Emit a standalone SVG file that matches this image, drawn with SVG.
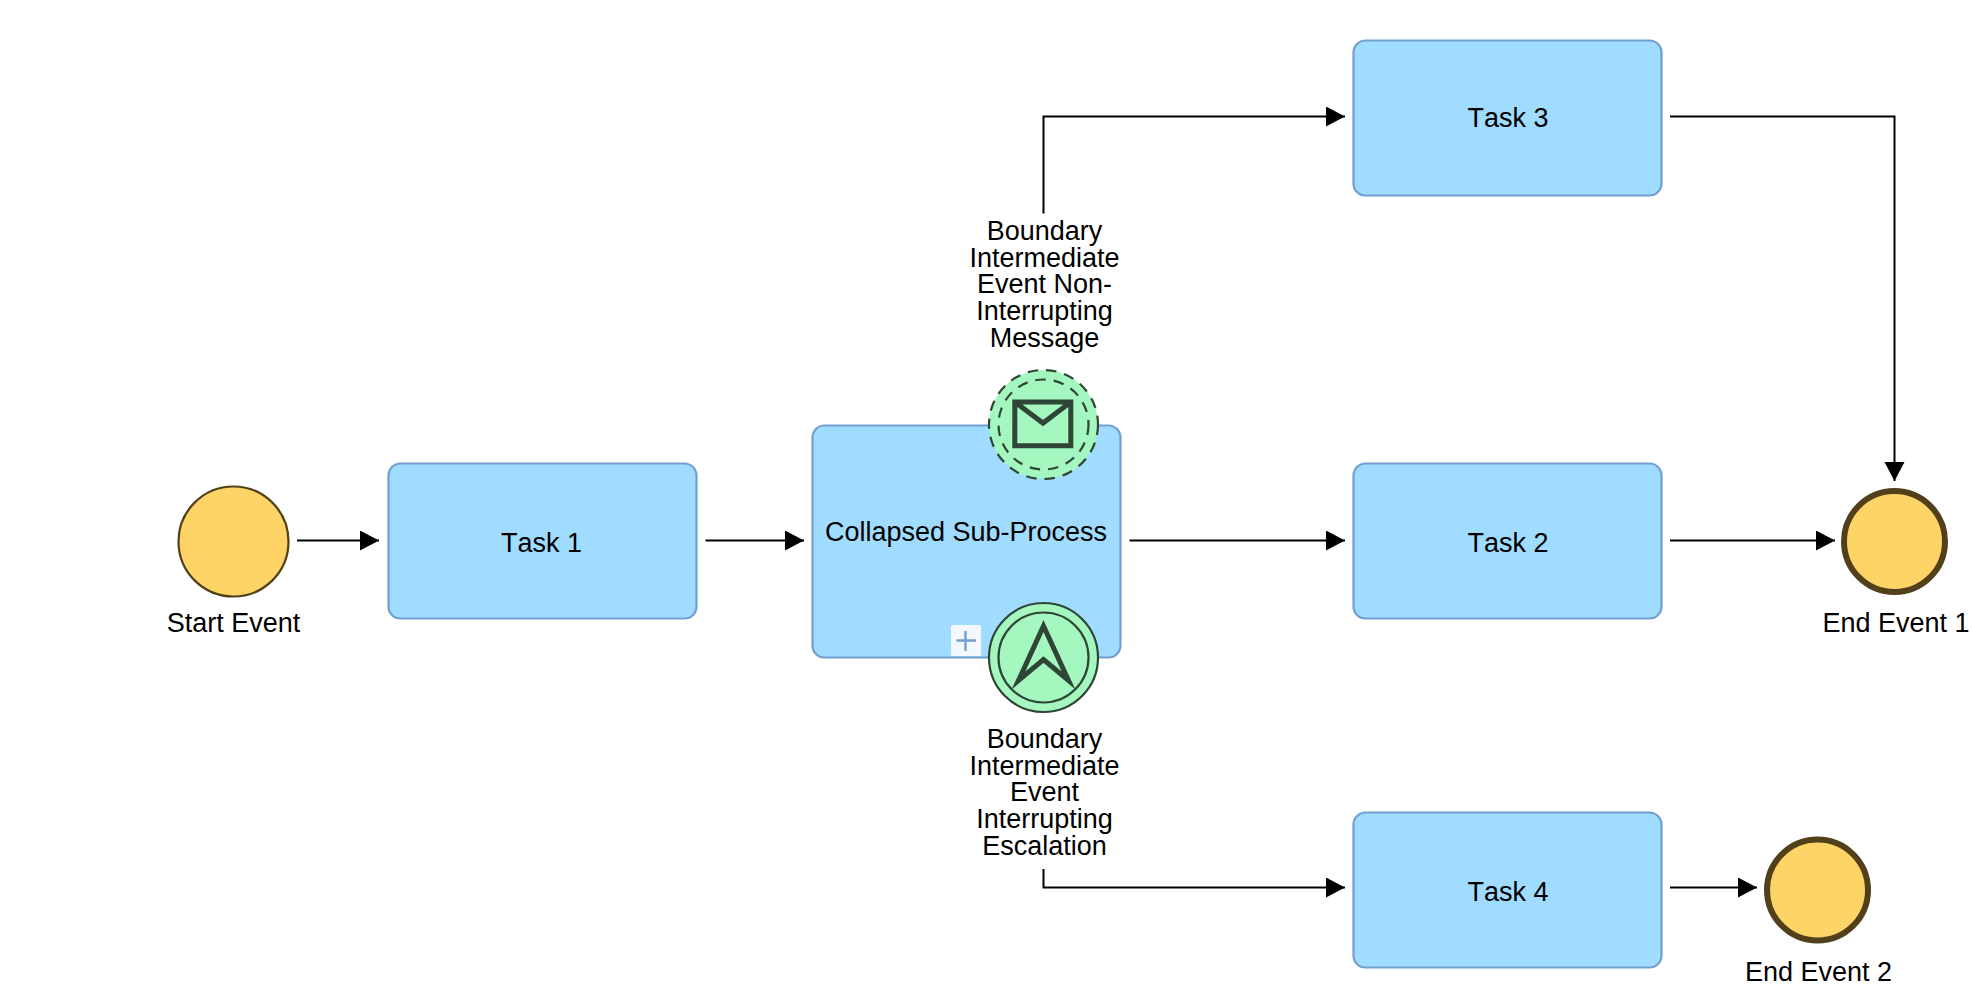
<svg xmlns="http://www.w3.org/2000/svg" width="1972" height="988" viewBox="0 0 1972 988">
<style>
text{font-family:"Liberation Sans",Arial,sans-serif;font-size:27px;fill:#000;text-anchor:middle;font-kerning:none}
.task{fill:#9fdcff;stroke:#729fcf;stroke-width:2.2}
.ev{fill:#ffd466;stroke:#51401a;stroke-width:2.2}
.end{fill:#ffd466;stroke:#51401a;stroke-width:6}
.be{fill:#a3f7bf;stroke:#2f4536;stroke-width:2.2}
.nofill{fill:none;stroke:#2f4536;stroke-width:2.2}
.dash{stroke-dasharray:10.5 8}
.ico{fill:none;stroke:#2f4536;stroke-width:5;stroke-miterlimit:10}
.c{fill:none;stroke:#000;stroke-width:2}
</style>
<defs><marker id="a" markerUnits="userSpaceOnUse" markerWidth="20" markerHeight="22" refX="19" refY="10" orient="auto"><path d="M0 0L19 10L0 20Z" fill="#000"/></marker></defs>
<g id="connectors">
<path class="c" marker-end="url(#a)" d="M297 540.500H379"/>
<path class="c" marker-end="url(#a)" d="M705.500 540.500H804"/>
<path class="c" marker-end="url(#a)" d="M1129.500 540.500H1345"/>
<path class="c" marker-end="url(#a)" d="M1670 540.500H1835"/>
<path class="c" marker-end="url(#a)" d="M1670 116.500H1894.500V481"/>
<path class="c" marker-end="url(#a)" d="M1043.500 213.500V116.500H1345"/>
<path class="c" marker-end="url(#a)" d="M1043.500 869V887.500H1345"/>
<path class="c" marker-end="url(#a)" d="M1670 887.500H1757"/>
</g>
<g id="start"><circle class="ev" cx="233.500" cy="541.500" r="55"/><text x="233.500" y="632">Start Event</text></g>
<g id="task1"><rect class="task" x="388.500" y="463.500" width="308" height="155" rx="12"/><text x="541.500" y="552">Task 1</text></g>
<g id="subprocess"><rect class="task" x="812.500" y="425.500" width="308" height="232" rx="12"/><text x="966" y="541">Collapsed Sub-Process</text>
<rect x="951" y="625" width="30" height="31" rx="1.500" fill="#f2f8fe"/><path d="M956.500 640.500H976M965.500 631V651" fill="none" stroke="#729fcf" stroke-width="2.400"/></g>
<g id="boundary-message"><circle class="be dash" cx="1043.500" cy="424.500" r="54.500"/><circle class="nofill dash" cx="1043.500" cy="424.500" r="45"/>
<path class="ico" d="M1014.800 402H1070.800V445.800H1014.800ZM1014.800 402L1043 423L1070.800 402"/>
<text y="240"><tspan x="1044.500">Boundary</tspan><tspan x="1044.500" dy="26.700">Intermediate</tspan><tspan x="1044.500" dy="26.700">Event Non-</tspan><tspan x="1044.500" dy="26.700">Interrupting</tspan><tspan x="1044.500" dy="26.700">Message</tspan></text></g>
<g id="boundary-escalation"><circle class="be" cx="1043.500" cy="657.500" r="54.500"/><circle class="nofill" cx="1043.500" cy="657.500" r="45"/>
<path class="ico" d="M1043.500 626L1068.500 680.500L1043.500 659.500L1018.500 680.500Z"/>
<text y="748"><tspan x="1044.500">Boundary</tspan><tspan x="1044.500" dy="26.700">Intermediate</tspan><tspan x="1044.500" dy="26.700">Event</tspan><tspan x="1044.500" dy="26.700">Interrupting</tspan><tspan x="1044.500" dy="26.700">Escalation</tspan></text></g>
<g id="task2"><rect class="task" x="1353.500" y="463.500" width="308" height="155" rx="12"/><text x="1508" y="552">Task 2</text></g>
<g id="task3"><rect class="task" x="1353.500" y="40.500" width="308" height="155" rx="12"/><text x="1508" y="127">Task 3</text></g>
<g id="task4"><rect class="task" x="1353.500" y="812.500" width="308" height="155" rx="12"/><text x="1508" y="901">Task 4</text></g>
<g id="end1"><circle class="end" cx="1894.500" cy="541.500" r="50.500"/><text x="1896" y="632">End Event 1</text></g>
<g id="end2"><circle class="end" cx="1817.500" cy="890" r="50.500"/><text x="1818.500" y="981">End Event 2</text></g>
</svg>
